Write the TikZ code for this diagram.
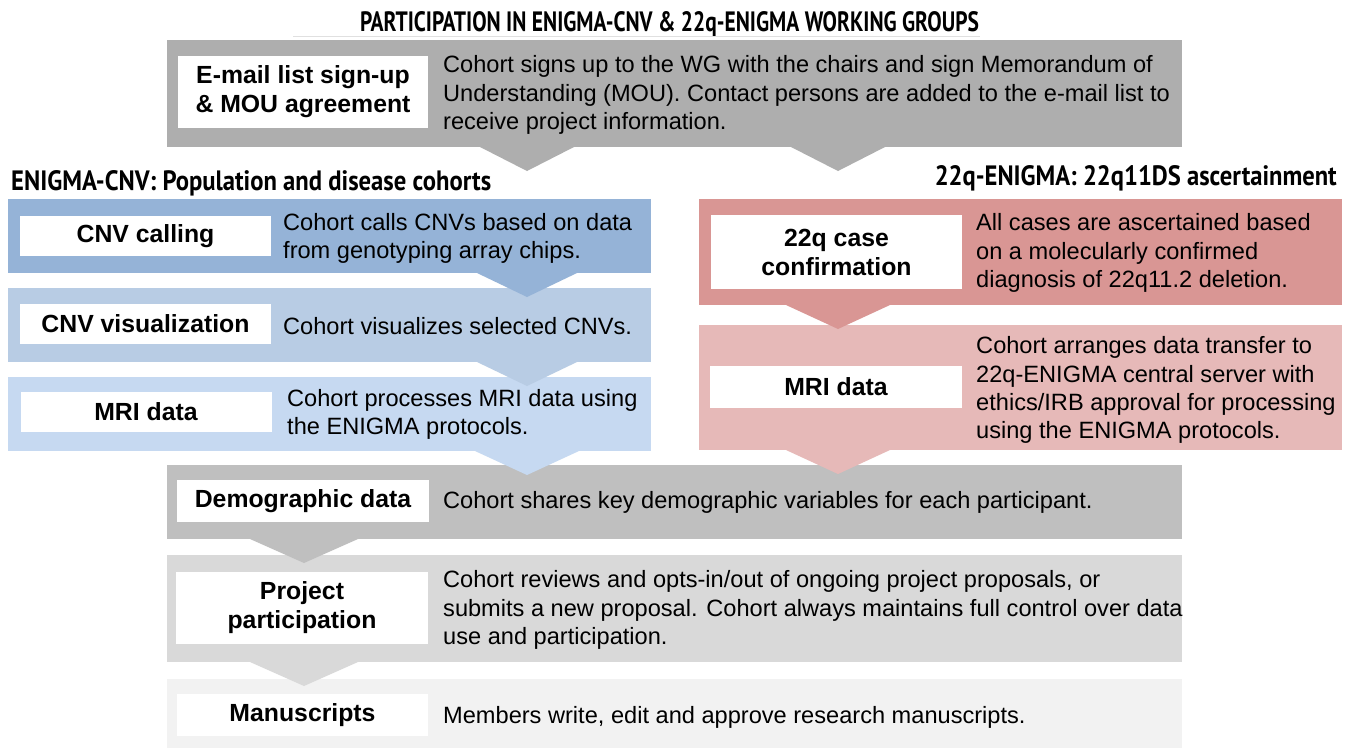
\documentclass[tikz,border=0pt]{standalone}
\usepackage{fontspec}
\setmainfont{Liberation Sans}
\newfontfamily\headfont{PT Sans}
\usetikzlibrary{calc}
\definecolor{gA}{RGB}{174,174,174}
\definecolor{bA}{RGB}{149,179,215}
\definecolor{bB}{RGB}{184,204,228}
\definecolor{bC}{RGB}{198,217,241}
\definecolor{rA}{RGB}{217,150,148}
\definecolor{rB}{RGB}{230,185,184}
\definecolor{gB}{RGB}{191,191,191}
\definecolor{gC}{RGB}{217,217,217}
\definecolor{gD}{RGB}{242,242,242}
\newcommand\chevron[4]{% colour, from node, x, half width
  \fill[#1] let \p1=(#2.south) in (#3pt-#4pt,\y1) -- (#3pt+#4pt,\y1) -- (#3pt,\y1-24pt) -- cycle;}
\begin{document}
\begin{tikzpicture}[x=1pt,y=-1pt,
  panel/.style={rectangle,inner sep=0pt,outer sep=0pt,draw=none},
  lab/.style={rectangle,fill=white,inner sep=0pt,outer sep=0pt,align=center,
    font=\bfseries\fontsize{24.8}{29}\selectfont},
  desc/.style={anchor=west,inner sep=0pt,align=left,font=\fontsize{23.6}{28.2}\selectfont},
  head/.style={inner sep=0pt,font=\headfont\bfseries\fontsize{28}{32}\selectfont}]
\useasboundingbox[fill=white] (0,0) rectangle (1352,748);
% title
\node[head,anchor=base] (title) at (669.5,31) {\resizebox{619pt}{\height}{PARTICIPATION IN ENIGMA-CNV \& 22q-ENIGMA WORKING GROUPS}};
\coordinate (ruleL) at (293,36);
\coordinate (ruleR) at (980,36);
\draw[black!12,line width=1pt] (ruleL) -- (ruleR);
% panels
\node[panel,fill=gA,minimum width=1015pt,minimum height=107pt] (top) at (674.5,93.5) {};
\node[panel,fill=bA,minimum width=643pt,minimum height=74pt] (b1) at (329.5,236) {};
\node[panel,fill=bB,minimum width=643pt,minimum height=74pt] (b2) at (329.5,325) {};
\node[panel,fill=bC,minimum width=643pt,minimum height=74pt] (b3) at (329.5,414) {};
\node[panel,fill=rA,minimum width=643pt,minimum height=106pt] (r1) at (1020.5,252) {};
\node[panel,fill=rB,minimum width=643pt,minimum height=125pt] (r2) at (1020.5,387.5) {};
\node[panel,fill=gB,minimum width=1015pt,minimum height=74pt] (dem) at (674.5,502) {};
\node[panel,fill=gC,minimum width=1015pt,minimum height=107pt] (proj) at (674.5,608.5) {};
\node[panel,fill=gD,minimum width=1015pt,minimum height=69pt] (man) at (674.5,713.5) {};
% chevrons
\chevron{gA}{top}{527}{47}
\chevron{gA}{top}{838}{47}
\chevron{bA}{b1}{527}{50}
\chevron{bB}{b2}{527}{50}
\chevron{bC}{b3}{527}{52}
\chevron{rA}{r1}{838}{52}
\chevron{rB}{r2}{838}{52}
\chevron{gB}{dem}{304}{54}
\chevron{gC}{proj}{304}{54}
% headings
\node[head,anchor=base west] (hl) at (11,190) {\resizebox{480pt}{\height}{ENIGMA-CNV: Population and disease cohorts}};
\node[head,anchor=base east] (hr) at (1337,185) {\resizebox{402pt}{\height}{22q-ENIGMA: 22q11DS ascertainment}};
% labels
\node[lab,minimum width=250pt,minimum height=72pt] (topL) at (303,92) {E-mail list sign-up\\\& MOU agreement};
\node[lab,minimum width=251pt,minimum height=40pt] (b1L) at (145.5,236) {CNV calling};
\node[lab,minimum width=251pt,minimum height=40pt] (b2L) at (145.5,324) {CNV visualization};
\node[lab,minimum width=251pt,minimum height=40pt] (b3L) at (146,412) {MRI data};
\node[lab,minimum width=251pt,minimum height=74pt] (r1L) at (836.5,252) {22q case\\confirmation};
\node[lab,minimum width=252pt,minimum height=42pt] (r2L) at (836,387) {MRI data};
\node[lab,minimum width=252pt,minimum height=42pt] (demL) at (303,501) {Demographic data};
\node[lab,minimum width=252pt,minimum height=72pt] (projL) at (302,608) {Project\\participation};
\node[lab,minimum width=251pt,minimum height=42pt] (manL) at (302.5,715) {Manuscripts};
% descriptions
\node[desc] (topT) at (443,95) {Cohort signs up to the WG with the chairs and sign Memorandum of\\Understanding (MOU). Contact persons are added to the e-mail list to\\receive project information.};
\node[desc] (b1T) at (283,238) {Cohort calls CNVs based on data\\from genotyping array chips.};
\node[desc] (b2T) at (283,326) {Cohort visualizes selected CNVs.};
\node[desc] (b3T) at (287,414) {Cohort processes MRI data using\\the ENIGMA protocols.};
\node[desc] (r1T) at (976,253) {All cases are ascertained based\\on a molecularly confirmed\\diagnosis of 22q11.2 deletion.};
\node[desc] (r2T) at (976,390) {Cohort arranges data transfer to\\22q-ENIGMA central server with\\ethics/IRB approval for processing\\using the ENIGMA protocols.};
\node[desc] (demT) at (443,502) {Cohort shares key demographic variables for each participant.};
\node[desc] (projT) at (443,610) {Cohort reviews and opts-in/out of ongoing project proposals, or\\submits a new proposal. Cohort always maintains full control over data\\use and participation.};
\node[desc] (manT) at (443,717) {Members write, edit and approve research manuscripts.};
\end{tikzpicture}
\end{document}
